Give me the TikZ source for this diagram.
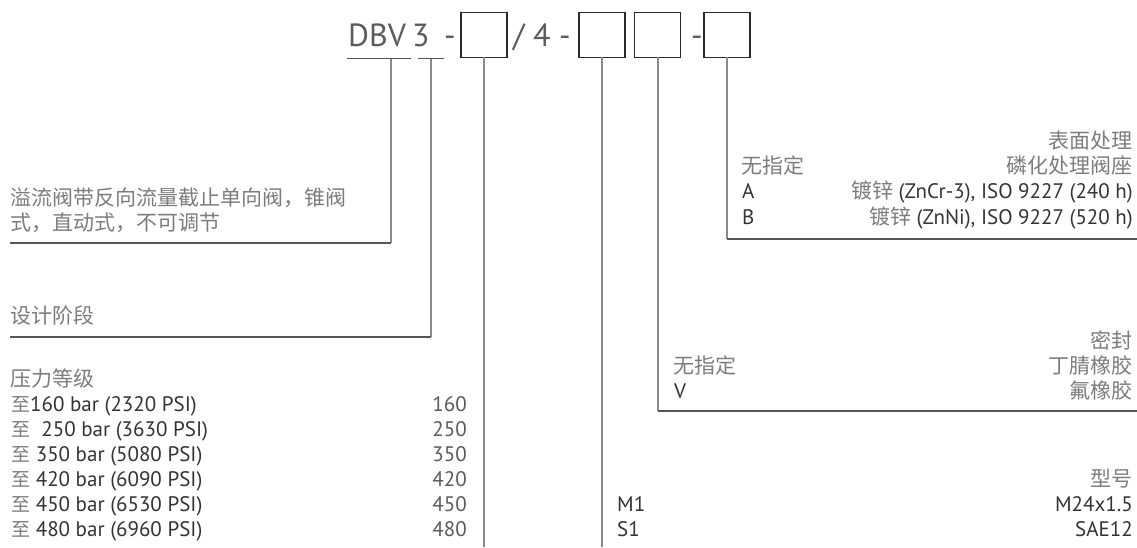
\documentclass[tikz,border=0pt]{standalone}
\usepackage{fontspec}
\setmainfont{PT Sans}
\newfontfamily\cjk{Noto Sans CJK SC}
\definecolor{vcol}{HTML}{8A8A8A}
\definecolor{hcol}{HTML}{555555}
\definecolor{boxcol}{HTML}{2A2A2A}
\definecolor{cjkcol}{HTML}{7C7C7C}
\definecolor{latcol}{HTML}{333333}
\definecolor{numcol}{HTML}{5A5A5A}
\definecolor{codecol}{HTML}{5C5C5C}
\begin{document}
\begin{tikzpicture}[x=1pt,y=-1pt,
  vconn/.style={draw=vcol, line width=1.6pt},
  hconn/.style={draw=hcol, line width=1.4pt},
  uline/.style={draw=hcol, line width=1.4pt},
  codebox/.style={draw=boxcol, line width=1.3pt, minimum width=46pt, minimum height=45pt, inner sep=0pt, outer sep=0pt},
  codetxt/.style={font=\fontsize{32}{36}\selectfont, text=codecol, inner sep=0pt, anchor=base west},
  cjkl/.style={font=\cjk\fontsize{21}{25}\selectfont, text=cjkcol, inner sep=0pt, anchor=base west},
  cjkr/.style={font=\cjk\fontsize{21}{25}\selectfont, text=cjkcol, inner sep=0pt, anchor=base east},
  latl/.style={font=\fontsize{21}{25}\selectfont, text=latcol, inner sep=0pt, anchor=base west},
  latr/.style={font=\fontsize{21}{25}\selectfont, text=latcol, inner sep=0pt, anchor=base east},
  numr/.style={font=\fontsize{21}{25}\selectfont, text=numcol, inner sep=0pt, anchor=base east}
]
\useasboundingbox (0,0) rectangle (1137,547);
\newcommand{\zhi}{{\cjk\color{cjkcol}\fontsize{19}{19}\selectfont 至}}
\newcommand{\gz}[1]{{\cjk\color{cjkcol}#1}}

% ---- type code line ----
\node[codetxt] (dbv) at (348,46) {DBV};
\node[codetxt] (three) at (412,46) {3};
\node[codetxt] (dash1) at (444,46) {-};
\node[codebox] (b1) at (484,34.7) {};
\node[codetxt] (slash) at (513,46) {/ 4 -};
\node[codebox] (b2) at (602,34.7) {};
\node[codebox] (b3) at (657.7,34.7) {};
\node[codetxt] (dash2) at (691,46) {-};
\node[codebox] (b4) at (727,34.7) {};

% underlines
\coordinate (u1a) at (347,58.5);
\coordinate (u1b) at (411,58.5);
\coordinate (u1m) at (391,58.5);
\coordinate (u2a) at (418,58.5);
\coordinate (u2b) at (444,58.5);
\coordinate (u2m) at (431,58.5);
\draw[uline] (u1a) -- (u1b);
\draw[uline] (u2a) -- (u2b);

% connector ends
\coordinate (e1) at (10,243);
\coordinate (e2) at (10,337);
\coordinate (e3) at (484,547);
\coordinate (e4) at (602,547);
\coordinate (e5) at (1137,411);
\coordinate (e6) at (1137,239);

\draw[vconn] (u1m) -- (u1m |- e1);
\draw[hconn] (u1m |- e1) -- (e1);
\draw[vconn] (u2m) -- (u2m |- e2);
\draw[hconn] (u2m |- e2) -- (e2);
\draw[vconn] (b1.south) -- (e3);
\draw[vconn] (b2.south) -- (e4);
\draw[vconn] (b3.south) -- (b3.south |- e5);
\draw[hconn] (b3.south |- e5) -- (e5);
\draw[vconn] (b4.south) -- (b4.south |- e6);
\draw[hconn] (b4.south |- e6) -- (e6);

% ---- left descriptions ----
\node[cjkl] (d1a) at (10,205) {溢流阀带反向流量截止单向阀，锥阀};
\node[cjkl] (d1b) at (10,230) {式，直动式，不可调节};
\node[cjkl] (d2) at (10,323) {设计阶段};
\node[cjkl] (d3) at (10,386) {压力等级};

\node[latl] (p1) at (11,411.5) {\zhi160 bar (2320 PSI)};
\node[latl] (p2) at (11,436.5) {\zhi\ \ 250 bar (3630 PSI)};
\node[latl] (p3) at (11,461.5) {\zhi\ 350 bar (5080 PSI)};
\node[latl] (p4) at (11,486.5) {\zhi\ 420 bar (6090 PSI)};
\node[latl] (p5) at (11,511.5) {\zhi\ 450 bar (6530 PSI)};
\node[latl] (p6) at (11,536.5) {\zhi\ 480 bar (6960 PSI)};
\node[numr] (n1) at (467,411.5) {160};
\node[numr] (n2) at (467,436.5) {250};
\node[numr] (n3) at (467,461.5) {350};
\node[numr] (n4) at (467,486.5) {420};
\node[numr] (n5) at (467,511.5) {450};
\node[numr] (n6) at (467,536.5) {480};

% ---- surface treatment ----
\node[cjkr] (s0) at (1133,148) {表面处理};
\node[cjkl] (s1l) at (741,173) {无指定};
\node[cjkr] (s1r) at (1133,173) {磷化处理阀座};
\node[latl] (s2l) at (742,198.5) {A};
\node[latr] (s2r) at (1133,198.5) {\gz{镀锌} (ZnCr-3), ISO 9227 (240 h)};
\node[latl] (s3l) at (742,224) {B};
\node[latr] (s3r) at (1133,224) {\gz{镀锌} (ZnNi), ISO 9227 (520 h)};

% ---- seal ----
\node[cjkr] (se0) at (1133,348) {密封};
\node[cjkl] (se1l) at (673,373) {无指定};
\node[cjkr] (se1r) at (1133,373) {丁腈橡胶};
\node[latl] (se2l) at (674,398) {V};
\node[cjkr] (se2r) at (1133,398) {氟橡胶};

% ---- type ----
\node[cjkr] (t0) at (1133,486) {型号};
\node[latl] (t1l) at (617,511.5) {M1};
\node[latr] (t1r) at (1133,511.5) {M24x1.5};
\node[latl] (t2l) at (617,536.5) {S1};
\node[latr] (t2r) at (1133,536.5) {SAE12};
\end{tikzpicture}
\end{document}
